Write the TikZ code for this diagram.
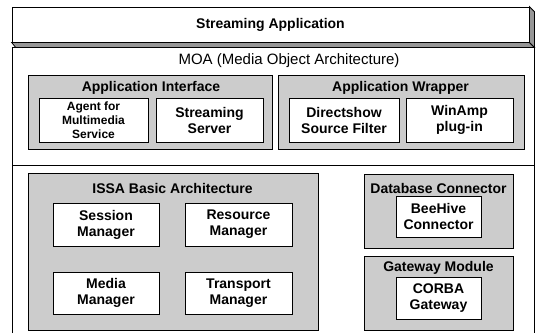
\documentclass[tikz,border=0pt]{standalone}
\usepackage{fontspec}
\setmainfont{Liberation Sans}
\definecolor{boxgray}{RGB}{204,204,204}
\definecolor{facegray}{RGB}{150,150,150}
\tikzset{
	graybox/.style={draw=black, line width=0.8pt, fill=boxgray, inner sep=0pt},
	whitebox/.style={draw=black, line width=0.8pt, fill=white, inner sep=0pt,
		align=center, font=\fontsize{14}{16}\selectfont\bfseries},
	boxtitle/.style={inner sep=0pt, font=\fontsize{14}{16}\selectfont\bfseries},
	face/.style={draw=black, line width=0.8pt, fill=facegray},
}
\begin{document}
\begin{tikzpicture}[x=1pt,y=-1pt]
	\useasboundingbox (0,0) rectangle (539,333);
	% Anwendung oben
	\node[whitebox, minimum width=517pt, minimum height=35pt] (app) at (270.5,24.5) {Streaming Application};
	\filldraw[face] (app.south west) -- (app.south east) -- ([shift={(5,5)}]app.south east)
		-- ([shift={(4,5)}]app.south west) -- cycle;
	\filldraw[face] (app.north east) -- ([shift={(5,5)}]app.north east)
		-- ([shift={(5,5)}]app.south east) -- (app.south east) -- cycle;

	% MOA Rahmen
	\draw[line width=1pt] (12,333) -- (12,47) -- (534,47) -- (534,333);
	\draw[line width=1pt] (12,165) -- (534,165);
	\node[inner sep=0pt, font=\fontsize{15}{17}\selectfont] (moa) at (289,61) {MOA (Media Object Architecture)};

	% Application Interface
	\node[graybox, minimum width=244pt, minimum height=74pt] (appif) at (150,112) {};
	\node[boxtitle] (appiftitle) at (151,88) {Application Interface};
	\node[whitebox, minimum width=109pt, minimum height=44pt, font=\fontsize{12}{14}\selectfont\bfseries]
		(agent) at (93.5,120) {Agent for\\Multimedia\\Service};
	\node[whitebox, minimum width=107pt, minimum height=44pt] (server) at (209.5,120) {Streaming\\Server};

	% Application Wrapper
	\node[graybox, minimum width=246pt, minimum height=74pt] (wrap) at (401,112) {};
	\node[boxtitle] (wraptitle) at (400.5,88) {Application Wrapper};
	\node[whitebox, minimum width=110pt, minimum height=44pt] (dshow) at (344,120) {Directshow\\Source Filter};
	\node[whitebox, minimum width=107pt, minimum height=44pt] (winamp) at (459.5,120) {WinAmp\\plug-in};

	% ISSA
	\node[graybox, minimum width=290pt, minimum height=157pt] (issa) at (173,251.5) {};
	\node[boxtitle] (issatitle) at (172.5,188) {ISSA Basic Architecture};
	\node[whitebox, minimum width=106pt, minimum height=43pt] (session) at (106,224.5) {Session\\Manager};
	\node[whitebox, minimum width=107pt, minimum height=43pt] (resource) at (238.5,224.5) {Resource\\Manager};
	\node[whitebox, minimum width=106pt, minimum height=42pt] (media) at (106,293) {Media\\Manager};
	\node[whitebox, minimum width=107pt, minimum height=42pt] (transport) at (238.5,293) {Transport\\Manager};

	% Datenbank und Gateway
	\node[graybox, minimum width=149pt, minimum height=74pt] (db) at (438.5,211) {};
	\node[boxtitle] (dbtitle) at (438.5,188) {Database Connector};
	\node[whitebox, minimum width=85pt, minimum height=41pt] (beehive) at (438.5,216.5) {BeeHive\\Connector};
	\node[graybox, minimum width=149pt, minimum height=74pt] (gw) at (438.5,293) {};
	\node[boxtitle] (gwtitle) at (438.5,268) {Gateway Module};
	\node[whitebox, minimum width=85pt, minimum height=42pt] (corba) at (438.5,298) {CORBA\\Gateway};
\end{tikzpicture}
\end{document}
